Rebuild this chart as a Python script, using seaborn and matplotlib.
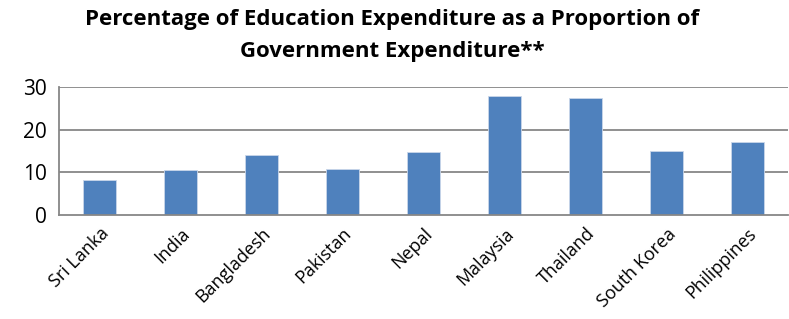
import numpy as np
import pandas as pd
import matplotlib
matplotlib.use('Agg')
import matplotlib.pyplot as plt
import seaborn as sns

countries = ['Sri Lanka', 'India', 'Bangladesh', 'Pakistan', 'Nepal',
             'Malaysia', 'Thailand', 'South Korea', 'Philippines']
values = [8.2, 10.6, 14.1, 10.8, 14.8, 27.9, 27.4, 15.0, 17.1]
y_ticks = [0, 10, 20, 30]

sns.set_style('white')
plt.rcParams['font.family'] = ['Open Sans', 'DejaVu Sans']
plt.rcParams['text.color'] = 'black'
plt.rcParams['xtick.color'] = 'black'
plt.rcParams['ytick.color'] = 'black'

df = pd.DataFrame({'country': countries, 'value': values})

fig = plt.figure(figsize=(7.89, 3.19), dpi=100)
ax = fig.add_axes([0.0748, 0.326, 0.924, 0.402])

grid_c = '#878787'
ax.set_ylim(0, 30)
ax.set_yticks(y_ticks)
for t in y_ticks[1:]:
    ax.axhline(t, color=grid_c, lw=1.3, zorder=0)

sns.barplot(data=df, x='country', y='value', color='#4F81BD', width=0.4,
            saturation=1, edgecolor='#C9D6EA', linewidth=0.6, ax=ax, zorder=2)

ax.set_xlim(-0.5, len(countries) - 0.5)
ax.set_xlabel('')
ax.set_ylabel('')

for s in ['top', 'right']:
    ax.spines[s].set_visible(False)
for s in ['left', 'bottom']:
    ax.spines[s].set_color(grid_c)
    ax.spines[s].set_linewidth(1.3)

ax.tick_params(axis='y', length=5, width=1.3, color=grid_c, labelcolor='black',
               labelsize=15, pad=4)
ax.set_xticks(np.arange(-0.5, len(countries), 1), minor=True)
ax.tick_params(axis='x', which='minor', length=5, width=1.3, color=grid_c)
ax.tick_params(axis='x', which='major', length=0, labelcolor='black',
               labelsize=13, pad=7)
plt.setp(ax.get_xticklabels(), rotation=45, ha='right', rotation_mode='anchor')

fig.text(0.497, 0.94, 'Percentage of Education Expenditure as a Proportion of',
         ha='center', va='center', fontsize=16, fontweight='bold', color='black')
fig.text(0.497, 0.84, 'Government Expenditure**',
         ha='center', va='center', fontsize=16, fontweight='bold', color='black')

fig.savefig('out.png', dpi=100)
